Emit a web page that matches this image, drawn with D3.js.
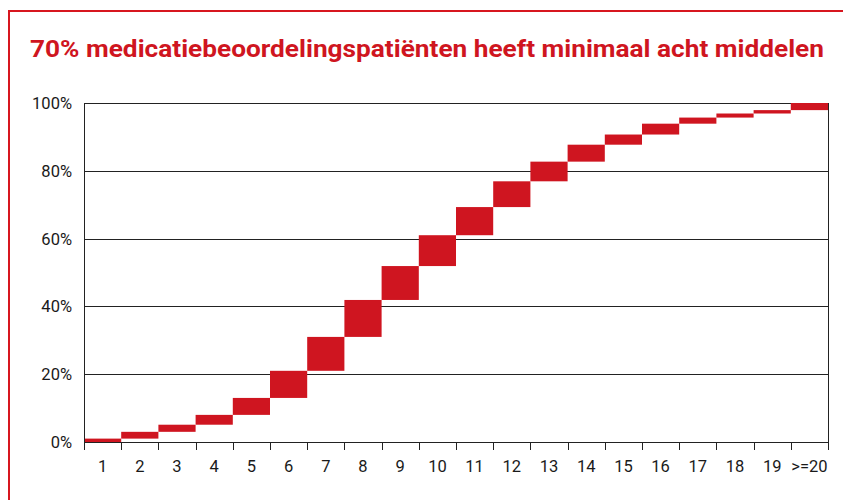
<!DOCTYPE html>
<html>
<head>
<meta charset="utf-8">
<script src="https://cdn.jsdelivr.net/npm/d3@7"></script>
<style>
  body { margin: 0; background: #fff; }
  svg { display: block; }
  text { font-family: Roboto, "DejaVu Sans Condensed", sans-serif; }
</style>
</head>
<body>
<svg id="chart" width="843" height="500"></svg>
<script>
// aantal middelen per patiënt
const categories = ["1","2","3","4","5","6","7","8","9","10","11","12","13","14","15","16","17","18","19",">=20"];
// aandeel patiënten per categorie (%)
const shares = [1.0, 2.0, 2.1, 2.9, 5.0, 8.0, 10.0, 10.9, 10.0, 9.1, 8.3, 7.6, 5.8, 5.0, 3.0, 3.2, 1.8, 1.2, 1.0, 2.1];
const yTicks = [0, 20, 40, 60, 80, 100];
const title = "70% medicatiebeoordelingspatiënten heeft minimaal acht middelen";

const red = "#cf1520";
const svg = d3.select("#chart");

// cumulative start/end for each floating bar
let cum = Array.from(d3.cumsum(shares));
let data = categories.map((c, i) => ({ cat: c, start: i ? cum[i - 1] : 0, end: cum[i] }));

const margin = { left: 84, right: 15, top: 103, bottom: 58 };
const W = 843, H = 500;

let x = d3.scaleBand().domain(categories).range([margin.left, W - margin.right]).padding(0);
let y = d3.scaleLinear().domain([0, 100]).range([H - margin.bottom, margin.top]);

// red frame
svg.append("path")
  .attr("d", "M9,500 V11 H843")
  .attr("fill", "none")
  .attr("stroke", "#d7161f")
  .attr("stroke-width", 2);

// title
svg.append("text")
  .attr("x", 30)
  .attr("y", 57)
  .attr("fill", red)
  .attr("font-size", 23)
  .attr("font-weight", 700)
  .attr("textLength", 794)
  .attr("lengthAdjust", "spacingAndGlyphs")
  .text(title);

// gridlines
svg.append("g")
  .selectAll("line")
  .data(yTicks)
  .join("line")
  .attr("x1", margin.left).attr("x2", W - margin.right)
  .attr("y1", d => Math.round(y(d)) + 0.5).attr("y2", d => Math.round(y(d)) + 0.5)
  .attr("stroke", "#222").attr("stroke-width", 1);

// bars
svg.append("g")
  .selectAll("rect")
  .data(data)
  .join("rect")
  .attr("x", d => x(d.cat))
  .attr("width", x.bandwidth())
  .attr("y", d => y(d.end))
  .attr("height", d => y(d.start) - y(d.end))
  .attr("fill", red);

// x axis: ticks at band edges
let edges = categories.map(c => x(c)).concat([W - margin.right]);
svg.append("g")
  .selectAll("line")
  .data(edges)
  .join("line")
  .attr("x1", d => Math.round(d) + 0.5).attr("x2", d => Math.round(d) + 0.5)
  .attr("y1", y(0)).attr("y2", y(0) + 8)
  .attr("stroke", "#222");

// vertical frame lines of the plot
[margin.left, W - margin.right].forEach(xx => {
  svg.append("line")
    .attr("x1", Math.round(xx) + 0.5).attr("x2", Math.round(xx) + 0.5)
    .attr("y1", y(100)).attr("y2", y(0) + 8)
    .attr("stroke", "#222");
});

svg.append("g")
  .selectAll("text")
  .data(categories)
  .join("text")
  .attr("x", d => x(d) + x.bandwidth() / 2)
  .attr("y", y(0) + 29.5)
  .attr("text-anchor", "middle")
  .attr("font-size", 16.5)
  .attr("fill", "#1a1a1a")
  .text(d => d);

// y labels
svg.append("g")
  .selectAll("text")
  .data(yTicks)
  .join("text")
  .attr("x", 72)
  .attr("y", d => y(d) + 6)
  .attr("text-anchor", "end")
  .attr("font-size", 16.5)
  .attr("fill", "#1a1a1a")
  .text(d => d + "%");
</script>
</body>
</html>
